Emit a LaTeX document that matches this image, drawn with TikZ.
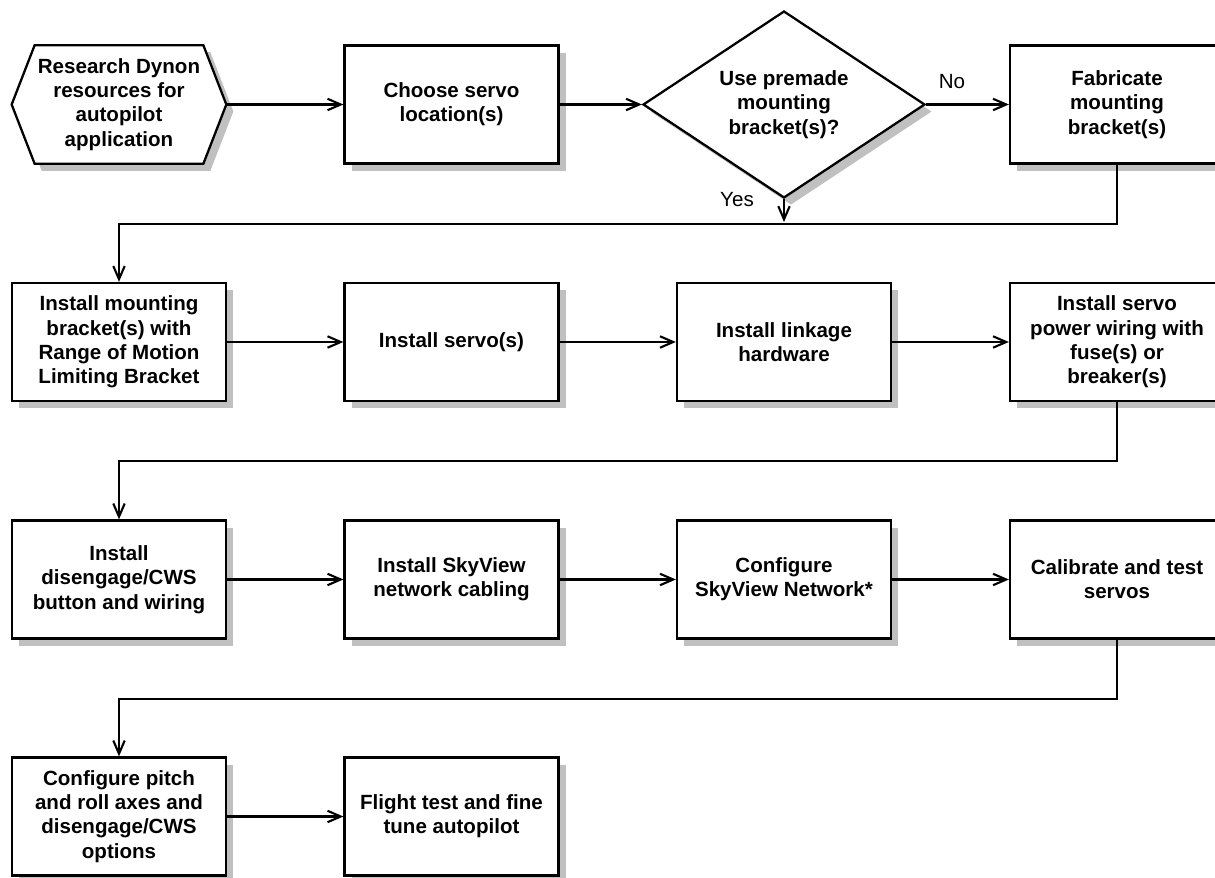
\documentclass[tikz,border=0pt]{standalone}
\usepackage{fontspec}
\setmainfont{Liberation Sans}
\usepackage{xcolor}
\usetikzlibrary{calc,arrows.meta,shapes.geometric,shadows,backgrounds}
\definecolor{ink}{RGB}{0,0,0}
\definecolor{shade}{RGB}{192,192,192}
\newcommand{\apbold}{\fontsize{11.7}{13.8}\selectfont\bfseries}
\newcommand{\applain}{\fontsize{11.7}{13.8}\selectfont}
\tikzset{
  apshadow/.style={drop shadow={shadow xshift=4pt,shadow yshift=-4pt,fill=shade,opacity=1}},
  aptext/.style={minimum width=4.28cm,minimum height=2.36cm,align=center,
    font=\apbold,inner sep=2pt},
  apbox/.style={aptext,draw=ink,line width=1.3pt,fill=white,apshadow},
  apdiamond/.style={diamond,draw=ink,line width=1.3pt,fill=white,aspect=1.5,
    minimum width=5.64cm,minimum height=3.74cm,align=center,font=\apbold,
    inner sep=0pt,apshadow},
  apline/.style={ink,line width=1.2pt,-{Straight Barb[length=7.5pt,width=6.5pt]}},
  aplabel/.style={font=\applain,inner sep=0pt},
}

\begin{document}
\begin{tikzpicture}[x=0.02cm,y=-0.02cm]
  \useasboundingbox (0,0) rectangle (1215,878);
  % row 1
  \node[aptext] (research) at (119,104.5)
    {Research Dynon\\resources for\\autopilot\\application};
  \begin{scope}[on background layer]
    \draw[ink,line width=1.3pt,fill=white,apshadow] (research.west)
      -- ($(research.north west)+(23,0)$) -- ($(research.north east)+(-23,0)$)
      -- (research.east) -- ($(research.south east)+(-23,0)$)
      -- ($(research.south west)+(23,0)$) -- cycle;
  \end{scope}
  \node[apbox] (choose) at (451.5,104.5) {Choose servo\\location(s)};
  \node[apdiamond] (premade) at (784,104.5) {Use premade\\mounting\\bracket(s)?};
  \node[apbox] (fabricate) at (1117,104.5) {Fabricate\\mounting\\bracket(s)};
  % row 2
  \node[apbox] (mount) at (119,342)
    {Install mounting\\bracket(s) with\\Range of Motion\\Limiting Bracket};
  \node[apbox] (servo) at (451.5,342) {Install servo(s)};
  \node[apbox] (linkage) at (784,342) {Install linkage\\hardware};
  \node[apbox] (power) at (1117,342)
    {Install servo\\power wiring with\\fuse(s) or\\breaker(s)};
  % row 3
  \node[apbox] (disengage) at (119,579.5) {Install\\disengage/CWS\\button and wiring};
  \node[apbox] (cabling) at (451.5,579.5) {Install SkyView\\network cabling};
  \node[apbox] (network) at (784,579.5) {Configure\\SkyView Network*};
  \node[apbox] (calibrate) at (1117,579.5) {Calibrate and test\\servos};
  % row 4
  \node[apbox] (pitchroll) at (119,816.5)
    {Configure pitch\\and roll axes and\\disengage/CWS\\options};
  \node[apbox] (flight) at (451.5,816.5) {Flight test and fine\\tune autopilot};
  % straight arrows
  \foreach \a/\b in {research/choose,choose/premade,premade/fabricate,
      mount/servo,servo/linkage,linkage/power,
      disengage/cabling,cabling/network,network/calibrate,pitchroll/flight}
    \draw[apline] (\a.east) -- (\b.west);
  % returns to next row
  \draw[apline] (fabricate.south) -- ++(0,59) -| (mount.north);
  \draw[apline] (power.south) -- ++(0,59) -| (disengage.north);
  \draw[apline] (calibrate.south) -- ++(0,59) -| (pitchroll.north);
  \coordinate (yesend) at (784,222);
  \draw[apline] (premade.south) -- (yesend);
  \node[aplabel] (no) at (952,82) {No};
  \node[aplabel] (yes) at (737,200) {Yes};
\end{tikzpicture}
\end{document}
